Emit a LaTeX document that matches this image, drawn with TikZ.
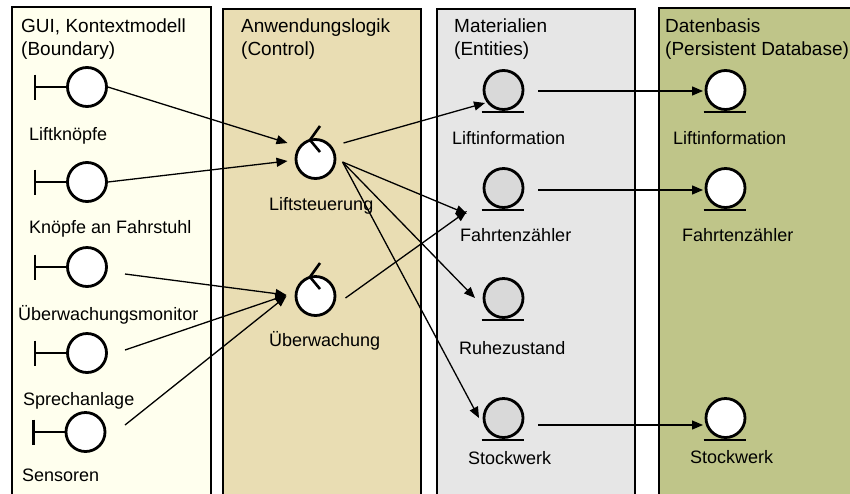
\documentclass[tikz,border=0pt]{standalone}
\usepackage{fontspec}
\setmainfont{Liberation Sans}
\usetikzlibrary{arrows.meta}
\definecolor{guifill}{HTML}{FFFFEE}
\definecolor{ctrlfill}{HTML}{E9DDB3}
\definecolor{matfill}{HTML}{E6E6E6}
\definecolor{dbfill}{HTML}{BFC589}
\definecolor{entfill}{HTML}{D9D9D9}

\begin{document}
\begin{tikzpicture}[x=1pt, y=-1pt,
    sym/.style={circle, draw, line width=2.8pt, fill=white, minimum size=39pt, inner sep=0pt},
    symline/.style={line width=2.6pt},
    lbl/.style={anchor=base west, inner sep=0pt, font=\fontsize{18}{22}\selectfont},
    ttl/.style={anchor=north west, inner sep=0pt, align=left, font=\fontsize{19}{22.5}\selectfont},
    panel/.style={draw, line width=1.4pt},
    flow/.style={line width=1.3pt, -{Triangle[length=11pt, width=9pt]}}]
    \useasboundingbox (0,0) rectangle (850,493);

    \draw[panel, fill=guifill] (12,7) rectangle (211,505);
    \draw[panel, fill=ctrlfill] (223,9) rectangle (421,505);
    \draw[panel, fill=matfill] (437,9) rectangle (635,505);
    \draw[panel, fill=dbfill] (659,8) rectangle (870,505);

    \node[ttl] (t1) at (21,19) {GUI, Kontextmodell\\(Boundary)};
    \node[ttl] (t2) at (241,19) {Anwendungslogik\\(Control)};
    \node[ttl] (t3) at (454,19) {Materialien\\(Entities)};
    \node[ttl] (t4) at (665,19) {Datenbasis\\(Persistent Database)};

    \node[sym] (b1) at (87,87) {};
    \node[sym] (b2) at (87,182) {};
    \node[sym] (b3) at (87,267) {};
    \node[sym] (b4) at (87,353) {};
    \node[sym] (b5) at (85.5,432) {};
    \foreach \i in {1,...,5}
        \draw[symline] (b\i.west) -- ++(-31,0) ++(0,-12.5) -- ++(0,25);

    \node[sym] (c1) at (315.5,159) {};
    \node[sym] (c2) at (315.5,296) {};
    \foreach \c in {c1,c2}
        \draw[symline] ([shift={(4.5,-33)}]\c.center) -- ([shift={(-5.5,-19)}]\c.center)
            -- ([shift={(4.5,-7)}]\c.center);

    \node[sym, fill=entfill] (e1) at (503.5,90) {};
    \node[sym, fill=entfill] (e2) at (503.5,188) {};
    \node[sym, fill=entfill] (e3) at (503.5,298) {};
    \node[sym, fill=entfill] (e4) at (503.5,418) {};
    \node[sym] (d1) at (725.5,90) {};
    \node[sym] (d2) at (725.5,188) {};
    \node[sym] (d3) at (725.5,418) {};
    \foreach \e in {e1,e2,e3,e4,d1,d2,d3}
        \draw[symline] ([shift={(-22,22)}]\e.center) -- ([shift={(20,22)}]\e.center);

    \node[lbl] (lb1) at (29,140) {Liftknöpfe};
    \node[lbl] (lb2) at (29,233) {Knöpfe an Fahrstuhl};
    \node[lbl] (lb3) at (18,320) {Überwachungsmonitor};
    \node[lbl] (lb4) at (23,405) {Sprechanlage};
    \node[lbl] (lb5) at (22,481) {Sensoren};
    \node[lbl] (lc1) at (269,210) {Liftsteuerung};
    \node[lbl] (lc2) at (269,346) {Überwachung};
    \node[lbl] (le1) at (452,144) {Liftinformation};
    \node[lbl] (le2) at (460,241) {Fahrtenzähler};
    \node[lbl] (le3) at (459,354) {Ruhezustand};
    \node[lbl] (le4) at (468,464) {Stockwerk};
    \node[lbl] (ld1) at (673,144) {Liftinformation};
    \node[lbl] (ld2) at (682,241) {Fahrtenzähler};
    \node[lbl] (ld3) at (690,463) {Stockwerk};

    \draw[flow] (b1.east) -- ([shift={(-28,-16)}]c1.center);
    \draw[flow] (b2.east) -- ([shift={(-28,2)}]c1.center);
    \draw[flow] ([shift={(38,7)}]b3.center) -- ([shift={(-29,-1)}]c2.center);
    \draw[flow] ([shift={(38,-3)}]b4.center) -- ([shift={(-29,-1)}]c2.center);
    \draw[flow] ([shift={(39.5,-7)}]b5.center) -- ([shift={(-29,0)}]c2.center);
    \draw[flow] ([shift={(28,-16)}]c1.center) -- ([shift={(-18.5,13)}]e1.center);
    \draw[flow] ([shift={(27,3)}]c1.center) -- ([shift={(-36.5,26)}]e2.center);
    \draw[flow] ([shift={(27,3)}]c1.center) -- ([shift={(-28.5,0)}]e3.center);
    \draw[flow] ([shift={(27,3)}]c1.center) -- ([shift={(-24.5,0)}]e4.center);
    \draw[flow] ([shift={(30,2)}]c2.center) -- ([shift={(-36.5,23)}]e2.center);
    \draw[flow] ([shift={(34.5,1)}]e1.center) -- ([shift={(-22.5,1)}]d1.center);
    \draw[flow] ([shift={(34.5,2)}]e2.center) -- ([shift={(-22.5,2)}]d2.center);
    \draw[flow] ([shift={(34.5,7)}]e4.center) -- ([shift={(-22.5,7)}]d3.center);
\end{tikzpicture}
\end{document}
